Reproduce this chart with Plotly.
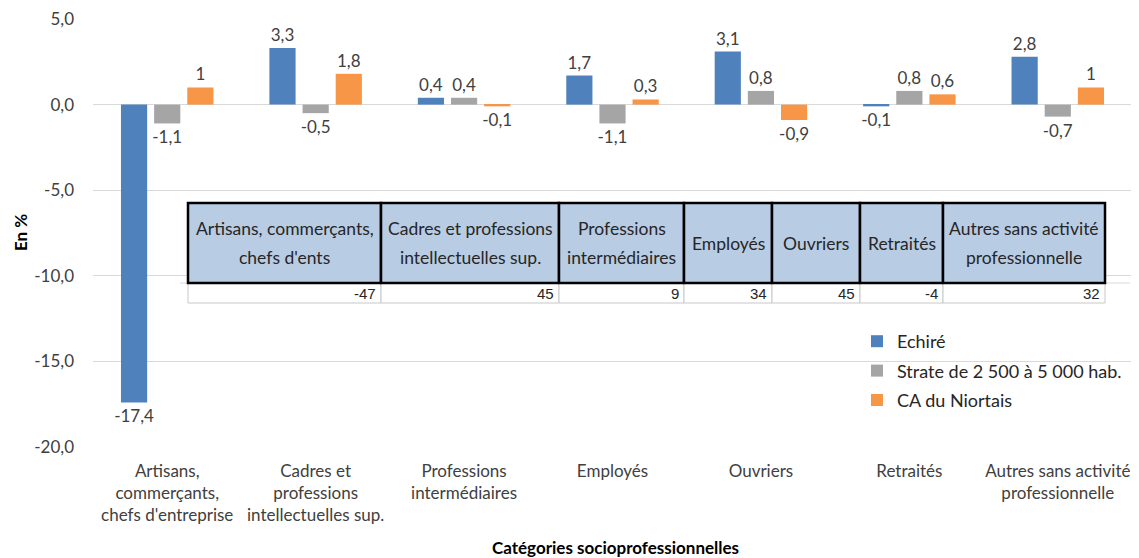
import plotly.graph_objects as go

categories = [
    "Artisans,<br>commerçants,<br>chefs d'entreprise",
    "Cadres et<br>professions<br>intellectuelles sup.",
    "Professions<br>intermédiaires",
    "Employés",
    "Ouvriers",
    "Retraités",
    "Autres sans activité<br>professionnelle",
]
echire = [-17.4, 3.3, 0.4, 1.7, 3.1, -0.1, 2.8]
strate = [-1.1, -0.5, 0.4, -1.1, 0.8, 0.8, -0.7]
ca_niort = [1, 1.8, -0.1, 0.3, -0.9, 0.6, 1]

table_headers = [
    "Artisans, commerçants,<br>chefs d'ents",
    "Cadres et professions<br>intellectuelles sup.",
    "Professions<br>intermédiaires",
    "Employés",
    "Ouvriers",
    "Retraités",
    "Autres sans activité<br>professionnelle",
]
table_values = [-47, 45, 9, 34, 45, -4, 32]
table_widths = [193, 178, 125, 88, 88, 83, 162]

y_ticks = [5, 0, -5, -10, -15, -20]

# la page ajoute une marge de 8 px autour de la figure
OFF = 8
W, H = 1139 - OFF, 558 - OFF
L, R, T, B = 93 - OFF, 7, 19 - OFF, 111
PW, PH = W - L - R, H - T - B


# positions données en pixels de la page -> coordonnées papier
def px(x):
    return (x - OFF - L) / PW


def py(y):
    return (H - B - (y - OFF)) / PH


def fr(v):
    return f"{v:g}".replace(".", ",")


FONT = "Lato"
TXT = "#404040"

fig = go.Figure()
series = [
    ("Echiré", echire, "#4F81BD"),
    ("Strate de 2 500 à 5 000 hab.", strate, "#A5A5A5"),
    ("CA du Niortais", ca_niort, "#F79646"),
]
for i, (name, vals, color) in enumerate(series):
    fig.add_trace(go.Bar(
        x=categories, y=vals, name=name,
        marker=dict(color=color, line=dict(width=0)),
        text=[fr(v) for v in vals],
        textposition="outside",
        constraintext="none",
        textfont=dict(size=17, color=TXT, family=FONT),
        cliponaxis=False,
        legendgroup=f"g{i}",
    ))

# tableau incrusté
tab_x0, tab_top, tab_mid, tab_bot = 188, 203, 283, 303
edges = [tab_x0]
for w in table_widths:
    edges.append(edges[-1] + w)

shapes = [
    dict(type="line", xref="paper", yref="paper", x0=px(180), x1=px(1130),
         y0=py(tab_mid), y1=py(tab_mid), line=dict(color="#D9D9D9", width=1), layer="above"),
]
annotations = []
for k, head in enumerate(table_headers):
    x0, x1 = edges[k], edges[k + 1]
    shapes.append(dict(type="rect", xref="paper", yref="paper",
                       x0=px(x0), x1=px(x1), y0=py(tab_bot), y1=py(tab_mid),
                       fillcolor="white", line=dict(color="#C8C8C8", width=1), layer="above"))
    shapes.append(dict(type="rect", xref="paper", yref="paper",
                       x0=px(x0), x1=px(x1), y0=py(tab_mid), y1=py(tab_top),
                       fillcolor="#B8CCE4", line=dict(color="black", width=2.5), layer="above"))
    lines = head.split("<br>")
    yc = (tab_top + tab_mid) / 2
    step = 29
    for j, ln in enumerate(lines):
        yl = yc + (j - (len(lines) - 1) / 2) * step
        annotations.append(dict(xref="paper", yref="paper", x=px((x0 + x1) / 2), y=py(yl),
                                text=ln, showarrow=False, xanchor="center", yanchor="middle",
                                font=dict(size=17.5, color="#262626", family=FONT)))
    annotations.append(dict(xref="paper", yref="paper", x=px(x1 - 3), y=py((tab_mid + tab_bot) / 2),
                            text=str(table_values[k]), showarrow=False, xanchor="right",
                            yanchor="middle",
                            font=dict(size=15, color="#262626", family="Liberation Sans")))

annotations.append(dict(xref="paper", yref="paper", x=px(20), y=0.5, text="<b>En %</b>",
                        textangle=-90, showarrow=False, xanchor="center", yanchor="middle",
                        font=dict(size=17, color="#000000", family=FONT)))
annotations.append(dict(xref="paper", yref="paper", x=px(615), y=py(547),
                        text="<b>Catégories socioprofessionnelles</b>", showarrow=False,
                        xanchor="center", yanchor="middle",
                        font=dict(size=17, color="#000000", family=FONT)))

fig.update_layout(
    width=W, height=H,
    margin=dict(l=L, r=R, t=T, b=B, autoexpand=False),
    plot_bgcolor="white", paper_bgcolor="white",
    font=dict(family=FONT, size=17, color=TXT),
    barmode="group", bargap=0.33, bargroupgap=0.21,
    showlegend=True,
    legend=dict(
        x=px(857), y=py(323), xanchor="left", yanchor="top",
        font=dict(size=18, color="#262626", family=FONT),
        tracegroupgap=3, bgcolor="rgba(0,0,0,0)",
    ),
    shapes=shapes,
    annotations=annotations,
    xaxis=dict(
        automargin=False,
        tickfont=dict(size=17, color=TXT),
        showline=False, ticks="", ticklabelstandoff=12,
    ),
    yaxis=dict(
        automargin=False,
        range=[-20, 5.001],
        tickvals=y_ticks,
        ticktext=[f"{v:.1f}".replace(".", ",") for v in y_ticks],
        tickfont=dict(size=17, color=TXT),
        ticklabeloverflow="allow",
        gridcolor="#D9D9D9", zeroline=False, showline=False,
        ticks="", ticklabelstandoff=18,
    ),
)

fig.write_html("out.html")
